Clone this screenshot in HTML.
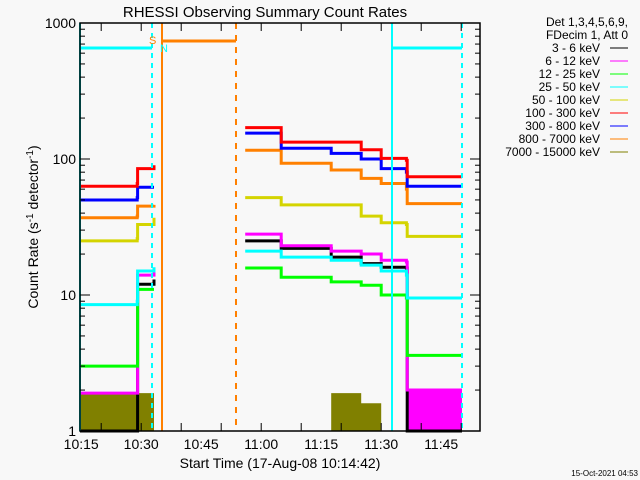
<!DOCTYPE html>
<html><head><meta charset="utf-8"><style>
body{margin:0;background:#f8f8f8;}
svg{display:block;font-family:"Liberation Sans",sans-serif;}
</style></head><body>
<svg id="c" width="640" height="480" viewBox="0 0 640 480">
<rect width="640" height="480" fill="#f8f8f8"/>
<text x="265" y="17" font-size="15" text-anchor="middle" fill="#000">RHESSI Observing Summary Count Rates</text>
<g id="plot"></g>
<g id="axes"></g>
<text x="280" y="468" font-size="14" text-anchor="middle">Start Time (17-Aug-08 10:14:42)</text>
<text transform="translate(38,227) rotate(-90)" font-size="14" text-anchor="middle">Count Rate (s<tspan font-size="10" dy="-5">-1</tspan><tspan dy="5"> detector</tspan><tspan font-size="10" dy="-5">-1</tspan><tspan dy="5">)</tspan></text>
<text x="638" y="476" font-size="8" text-anchor="end">15-Oct-2021 04:53</text>
<g id="legend"></g>
</svg>
<script>
const times=[-0.3,14,14.1,18.2,null,41,50,62.5,70,75,81.3,81.5,95.2];
const s36=[1,1,12,13,null,25,22,19,17,16,15.8,1,1];
const s612=[1.9,1.9,14,15,null,28,23,21,20,18,17.5,2,2];
const s1225=[3,3,11,11,null,15.8,13.5,12.5,11.8,10,9.5,3.6,3.6];
const s2550=[8.5,9,15,16,null,21,19,18,16.6,15,14,9.5,9.5];
const s50100=[25,26,33,37,null,52,46,46,38,34,33,27,27];
const s100300=[63,66,85,90,null,170,133,133,117,101,98,74,74];
const s300800=[50,52,62,62,null,155,120,110,100,85,80,63,63];
const s8007000=[37,38,45,46,null,116,93,83,72,66,60,47,47];
const s7000=[1.9,1.9,1.9,1.9,null,1,1,1.9,1.6,1,1,1,1];
const s612Low=[1.9,1.9,1,1,null,1,1,1,1,1,1,2,2];
const legendLabels=["3 - 6 keV","6 - 12 keV","12 - 25 keV","25 - 50 keV","50 - 100 keV","100 - 300 keV","300 - 800 keV","800 - 7000 keV","7000 - 15000 keV"];
const colors=["#000","#ff00ff","#00ff00","#00ffff","#d4d400","#ff0000","#0000ff","#ff8000","#808000"];
const xTickLabels=["10:15","10:30","10:45","11:00","11:15","11:30","11:45"];
const yTickLabels=["1","10","100","1000"];
const NS="http://www.w3.org/2000/svg";
const L=80,R=480,T=23,B=431;
const X=t=>L+4*(t+0.3);
const Y=v=>B-136*Math.log10(v);
function el(tag,attrs,parent){const e=document.createElementNS(NS,tag);for(const k in attrs)e.setAttribute(k,attrs[k]);parent.appendChild(e);return e;}
const plot=document.getElementById('plot'),axes=document.getElementById('axes'),leg=document.getElementById('legend');
function segs(vals){const out=[];let cur=[];times.forEach((t,i)=>{if(t===null){if(cur.length)out.push(cur);cur=[];}else cur.push([X(t),Y(vals[i])]);});if(cur.length)out.push(cur);return out;}
function stepPts(seg){let p=[];seg.forEach((q,i)=>{if(i>0)p.push([q[0],seg[i-1][1]]);p.push(q);});return p;}
[[s612Low,1],[s7000,8]].forEach(([vals,ci])=>{
 segs(vals).forEach(seg=>{const p=stepPts(seg);const d='M'+p[0][0]+','+B+' '+p.map(q=>'L'+q[0]+','+q[1]).join(' ')+' L'+p[p.length-1][0]+','+B+'Z';
  const a=el('path',{d:d,fill:colors[ci]},plot);
  
  });
});
const series=[s36,s612,s1225,s2550,s50100,s8007000,s300800,s100300];
const idx=[0,1,2,3,4,7,6,5];
series.forEach((vals,k)=>{const ci=idx[k];
 segs(vals).forEach(seg=>{const p=stepPts(seg);
  const pl=el('polyline',{points:p.map(q=>q.join(',')).join(' '),fill:'none',stroke:colors[ci],'stroke-width':3},plot);
  
  });
});
const mk=[[80,'#00ffff',''],[392,'#00ffff',''],[152,'#00ffff','5,5'],[462,'#00ffff','5,5'],[162,'#ff8000',''],[236,'#ff8000','6,6']];
mk.forEach(m=>{const l=el('line',{x1:m[0],x2:m[0],y1:T,y2:B,stroke:m[1],'stroke-width':2,'stroke-dasharray':m[2]},plot);
 
 });
[[80,152,'#00ffff',48],[392,462,'#00ffff',48],[163,236,'#ff8000',41]].forEach(b=>{const l=el('line',{x1:b[0],x2:b[1],y1:b[3],y2:b[3],stroke:b[2],'stroke-width':3},plot);
 
 });
let s=el('text',{x:149,y:44,'font-size':11,fill:'#ff8000'},plot);s.textContent='S';


let n=el('text',{x:160,y:52,'font-size':11,fill:'#00ffff'},plot);n.textContent='N';


const fr=el('rect',{x:L,y:T,width:R-L,height:B-T,fill:'none',stroke:'#000','stroke-width':1.5},axes);


for(let d=0;d<3;d++)for(let m=1;m<10;m++){const y=Y(m*Math.pow(10,d));const len=m===1?10:5;
 el('line',{x1:L,x2:L+len,y1:y,y2:y,stroke:'#000'},axes);el('line',{x1:R,x2:R-len,y1:y,y2:y,stroke:'#000'},axes);}
yTickLabels.forEach((lab,i)=>{const t=el('text',{x:L-4,y:Y(Math.pow(10,i))+5,'font-size':14,'text-anchor':'end'},axes);t.textContent=lab;
 
 });
for(let t=5;t<100;t+=10){const x=X(t);el('line',{x1:x,x2:x,y1:B,y2:B-8,stroke:'#000'},axes);el('line',{x1:x,x2:x,y1:T,y2:T+8,stroke:'#000'},axes);}
xTickLabels.forEach((lab,i)=>{const t=el('text',{x:X(i*15),y:449,'font-size':14,'text-anchor':'middle'},axes);t.textContent=lab;
 
 });
const hd=["Det 1,3,4,5,6,9,","FDecim 1, Att 0"];
hd.forEach((h,i)=>{const t=el('text',{x:628,y:26+13*i,'font-size':12,'text-anchor':'end'},leg);t.textContent=h;
 
 });
legendLabels.forEach((lab,i)=>{const y=52+13*i;const t=el('text',{x:600,y:y,'font-size':12,'text-anchor':'end'},leg);t.textContent=lab;
 
 
 const l=el('line',{x1:610,x2:628,y1:y-4,y2:y-4,stroke:colors[i],'stroke-width':1},leg);
 
 });
</script>
</body></html>
